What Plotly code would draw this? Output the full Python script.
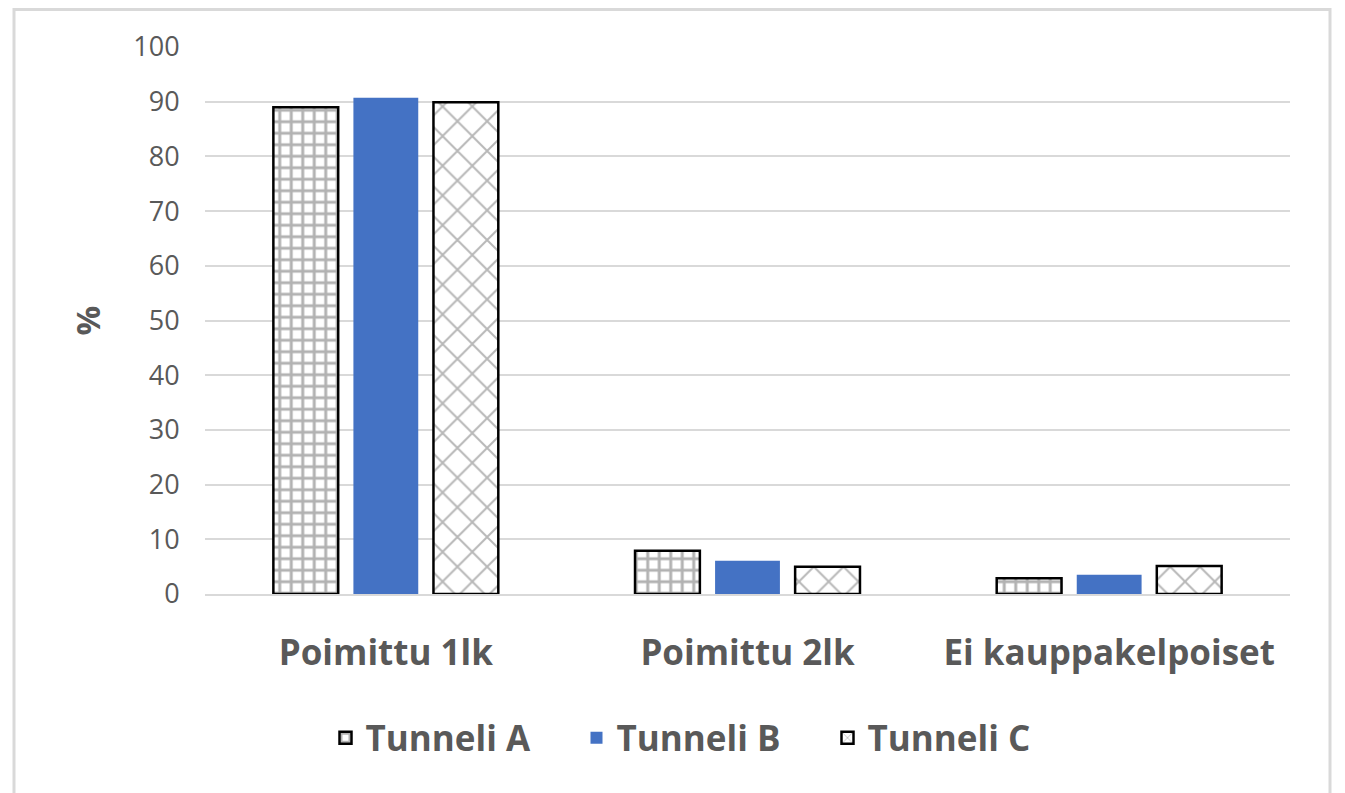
import plotly.graph_objects as go

categories = ["Poimittu 1lk", "Poimittu 2lk", "Ei kauppakelpoiset"]
series_names = ["Tunneli A", "Tunneli B", "Tunneli C"]
tunneli_a = [89.0, 7.9, 2.9]
tunneli_b = [90.7, 6.1, 3.5]
tunneli_c = [89.9, 5.0, 5.1]
y_ticks = [0, 10, 20, 30, 40, 50, 60, 70, 80, 90, 100]

fig = go.Figure()
fig.add_trace(go.Bar(
    x=categories, y=tunneli_a, name=series_names[0],
    marker=dict(color="white", line=dict(color="black", width=2.5),
                pattern=dict(shape="+", fgcolor="#666666", bgcolor="white",
                             fillmode="overlay", size=11.5, solidity=0.45)),
))
fig.add_trace(go.Bar(
    x=categories, y=tunneli_b, name=series_names[1],
    marker=dict(color="#4472C4", line=dict(width=0)),
))
fig.add_trace(go.Bar(
    x=categories, y=tunneli_c, name=series_names[2],
    marker=dict(color="white", line=dict(color="black", width=2.5),
                pattern=dict(shape="x", fgcolor="#707070", bgcolor="white",
                             fillmode="overlay", size=21, solidity=0.18)),
))

# page body adds an 8px offset
OFF = 8
W, H = 1345 - OFF, 793 - OFF
ml, mt = 205 - OFF, 47 - OFF
plot_right, plot_bottom = 1290 - OFF, 594 - OFF
mr, mb = W - plot_right, H - plot_bottom
pw, ph = W - ml - mr, H - mt - mb

def px(x):
    return (x - OFF - ml) / pw

def py(y):
    return (plot_bottom - (y - OFF)) / ph

fig.update_layout(
    width=W, height=H,
    margin=dict(l=ml, r=mr, t=mt, b=mb),
    paper_bgcolor="white", plot_bgcolor="white",
    barmode="group", bargap=0.336, bargroupgap=0.19,
    font=dict(family="Open Sans", color="#595959"),
    showlegend=True,
    legend=dict(orientation="h", x=px(702), xanchor="center", y=py(738), yanchor="middle",
                font=dict(size=35, family="Open Sans", color="#595959", weight="bold"),
                itemwidth=30, traceorder="normal",
                entrywidth=206, entrywidthmode="pixels"),
    xaxis=dict(showgrid=False, showline=True, linecolor="#d9d9d9", linewidth=2,
               ticks="outside", ticklen=27, tickcolor="rgba(0,0,0,0)",
               tickfont=dict(size=35, family="Open Sans", color="#595959", weight="bold")),
    yaxis=dict(range=[0, 100], tickvals=y_ticks, showgrid=True, gridcolor="#d9d9d9",
               gridwidth=2, zeroline=False, showline=False,
               ticks="outside", ticklen=19, tickcolor="rgba(0,0,0,0)",
               tickfont=dict(size=27, family="Open Sans", color="#595959"),
               title=dict(text="%", font=dict(size=33, family="Open Sans", color="#595959",
                                              weight="bold"), standoff=22)),
    shapes=[dict(type="rect", xref="paper", yref="paper",
                 x0=px(14), x1=px(1330), y0=py(805), y1=py(9.5),
                 line=dict(color="#d9d9d9", width=3), fillcolor="rgba(0,0,0,0)", layer="below")],
)

fig.write_html("out.html")
